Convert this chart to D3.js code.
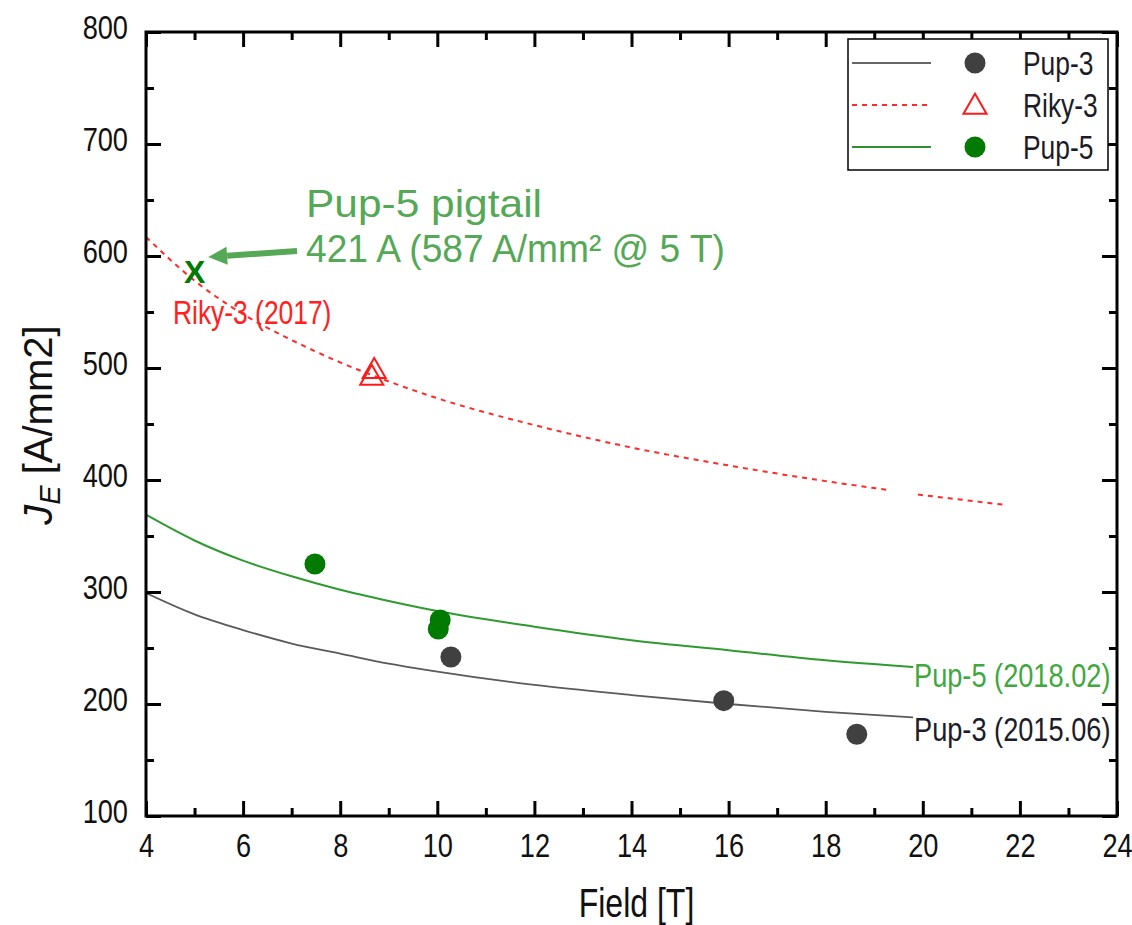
<!DOCTYPE html>
<html>
<head>
<meta charset="utf-8">
<script src="https://cdn.jsdelivr.net/npm/d3@7"></script>
<style>
  body { margin: 0; background: #fff; }
  svg text { font-family: "Liberation Sans", Arial, sans-serif; }
</style>
</head>
<body>
<script>
// curve values (field in T, JE in A/mm2)
const pup3CurveB = [4, 5, 6, 7, 8, 9, 10, 12, 14, 16, 18, 19.8];
const pup3CurveJ = [299, 280, 266, 254, 245, 236, 229, 217, 208, 200, 193, 188];
const pup5CurveB = [4, 5, 6, 7, 8, 9, 10, 12, 14, 16, 18, 19.8];
const pup5CurveJ = [369, 346, 328, 314, 302, 292, 283, 269, 257, 248, 239, 233];
// the red dotted fit has a small break near 19.5 T
const riky3CurveB = [4, 5, 6, 7, 8, 9, 10, 12, 14, 16, 18, 19.3, null, 19.9, 21.65];
const riky3CurveJ = [617, 578, 548, 525, 505, 488, 473, 449, 429, 413, 399, 391, null, 387, 378];

// measured points
const pup3B = [10.28, 15.9, 18.64];
const pup3J = [242, 203, 173];
const pup5B = [7.48, 10.06, 10.02];
const pup5J = [325, 275, 267];
const riky3B = [8.70, 8.65];
const riky3J = [497, 491];
const pigtailB = 5;
const pigtailJ = 587;

const xTicks = [4, 6, 8, 10, 12, 14, 16, 18, 20, 22, 24];
const xMinor = d3.range(5, 24, 2);
const yTicks = [100, 200, 300, 400, 500, 600, 700, 800];
const yMinor = d3.range(150, 800, 100);

const legendNames = ["Pup-3", "Riky-3", "Pup-5"];

const width = 1132;
const height = 925;
const margin = { top: 32, right: 15, bottom: 109, left: 146 };
const squeeze = 0.8; // the plot's fonts are a narrow face

const svg = d3.select("body")
    .append("svg")
    .attr("width", width)
    .attr("height", height);

// fake a condensed font by scaling text along its own direction
function narrow(sel) {
    sel.each(function () {
        const t = d3.select(this);
        const tx = +t.attr("x") || 0;
        const ty = +t.attr("y") || 0;
        t.attr("x", null).attr("y", null)
            .attr("transform", `translate(${tx},${ty}) scale(${squeeze},1)`);
    });
}

const x = d3.scaleLinear().domain([4, 24]).range([margin.left, width - margin.right]);
const y = d3.scaleLinear().domain([100, 800]).range([height - margin.bottom, margin.top]);

const pw = x(24) - x(4);
const ph = y(100) - y(800);

svg.append("clipPath").attr("id", "clip")
    .append("rect")
    .attr("x", x(4)).attr("y", y(800))
    .attr("width", pw).attr("height", ph);

const zip = (bs, js) => bs.map((b, i) => ({ b: b, j: js[i] }));

const line = d3.line()
    .defined(d => d.b != null)
    .x(d => x(d.b))
    .y(d => y(d.j))
    .curve(d3.curveMonotoneX);

const plot = svg.append("g").attr("clip-path", "url(#clip)");

plot.append("path")
    .datum(zip(riky3CurveB, riky3CurveJ))
    .attr("d", line)
    .attr("fill", "none")
    .attr("stroke", "#ff2a2a")
    .attr("stroke-width", 2)
    .attr("stroke-dasharray", "5,5");

plot.append("path")
    .datum(zip(pup5CurveB, pup5CurveJ))
    .attr("d", line)
    .attr("fill", "none")
    .attr("stroke", "#2f9a2f")
    .attr("stroke-width", 2);

plot.append("path")
    .datum(zip(pup3CurveB, pup3CurveJ))
    .attr("d", line)
    .attr("fill", "none")
    .attr("stroke", "#5a5a5a")
    .attr("stroke-width", 1.8);

// symbols
const triangle = d3.symbol().type(d3.symbolTriangle).size(230);

plot.selectAll(".riky")
    .data(zip(riky3B, riky3J))
    .join("path")
    .attr("class", "riky")
    .attr("transform", d => `translate(${x(d.b)},${y(d.j)})`)
    .attr("d", triangle)
    .attr("fill", "none")
    .attr("stroke", "#ff1a1a")
    .attr("stroke-width", 2);

plot.selectAll(".pup5")
    .data(zip(pup5B, pup5J))
    .join("circle")
    .attr("class", "pup5")
    .attr("cx", d => x(d.b))
    .attr("cy", d => y(d.j))
    .attr("r", 10.5)
    .attr("fill", "#007a00");

plot.selectAll(".pup3")
    .data(zip(pup3B, pup3J))
    .join("circle")
    .attr("class", "pup3")
    .attr("cx", d => x(d.b))
    .attr("cy", d => y(d.j))
    .attr("r", 10.5)
    .attr("fill", "#404040");

// axes, ticks pointing inward on all four sides
function styleAxis(g) {
    g.select(".domain").remove();
    g.selectAll(".tick line").attr("stroke", "#000").attr("stroke-width", 3);
    g.selectAll(".tick text")
        .attr("fill", "#111")
        .style("font-size", "34px");
}

svg.append("g")
    .attr("transform", `translate(0,${y(100)})`)
    .call(d3.axisBottom(x).tickValues(xTicks).tickSize(-15).tickPadding(17).tickFormat(d3.format("d")))
    .call(styleAxis)
    .call(g => g.selectAll(".tick text").call(narrow));
svg.append("g")
    .attr("transform", `translate(0,${y(100)})`)
    .call(d3.axisBottom(x).tickValues(xMinor).tickSize(-8).tickFormat(""))
    .call(styleAxis);

svg.append("g")
    .attr("transform", `translate(${x(4)},0)`)
    .call(d3.axisLeft(y).tickValues(yTicks).tickSize(-15).tickPadding(18).tickFormat(d3.format("d")))
    .call(styleAxis)
    .call(g => g.selectAll(".tick text").attr("dy", "0.2em").call(narrow));
svg.append("g")
    .attr("transform", `translate(${x(4)},0)`)
    .call(d3.axisLeft(y).tickValues(yMinor).tickSize(-8).tickFormat(""))
    .call(styleAxis);

svg.append("g")
    .attr("transform", `translate(0,${y(800)})`)
    .call(d3.axisTop(x).tickValues(xTicks).tickSize(-15).tickFormat(""))
    .call(styleAxis);
svg.append("g")
    .attr("transform", `translate(0,${y(800)})`)
    .call(d3.axisTop(x).tickValues(xMinor).tickSize(-8).tickFormat(""))
    .call(styleAxis);

svg.append("g")
    .attr("transform", `translate(${x(24)},0)`)
    .call(d3.axisRight(y).tickValues(yTicks).tickSize(-15).tickFormat(""))
    .call(styleAxis);
svg.append("g")
    .attr("transform", `translate(${x(24)},0)`)
    .call(d3.axisRight(y).tickValues(yMinor).tickSize(-8).tickFormat(""))
    .call(styleAxis);

svg.append("rect")
    .attr("x", x(4)).attr("y", y(800))
    .attr("width", pw).attr("height", ph)
    .attr("fill", "none")
    .attr("stroke", "#000")
    .attr("stroke-width", 3);

// axis titles
svg.append("text")
    .attr("x", (x(4) + x(24)) / 2 + 5)
    .attr("y", 917)
    .attr("text-anchor", "middle")
    .style("font-size", "40px")
    .attr("fill", "#111")
    .text("Field [T]")
    .call(narrow);

const yTitle = svg.append("text")
    .attr("transform", `translate(52,${y(449)}) rotate(-90)`)
    .attr("text-anchor", "middle")
    .style("font-size", "40px")
    .attr("fill", "#111");
yTitle.append("tspan").style("font-style", "italic").text("J");
yTitle.append("tspan").style("font-style", "italic").style("font-size", "29px").attr("dy", 8).text("E");
yTitle.append("tspan").attr("dy", -8).text(" [A/mm2]");

// curve labels
svg.append("text")
    .attr("x", 173).attr("y", 324)
    .style("font-size", "33px")
    .attr("fill", "#ff2020")
    .text("Riky-3 (2017)")
    .call(narrow);
svg.append("text")
    .attr("x", 914).attr("y", 687)
    .style("font-size", "34px")
    .attr("fill", "#3fa83f")
    .text("Pup-5 (2018.02)")
    .call(narrow);
svg.append("text")
    .attr("x", 914).attr("y", 741)
    .style("font-size", "34px")
    .attr("fill", "#1c1c28")
    .text("Pup-3 (2015.06)")
    .call(narrow);

// pigtail annotation
svg.append("text")
    .attr("x", x(pigtailB)).attr("y", y(pigtailJ) + 12)
    .attr("text-anchor", "middle")
    .style("font-size", "32px")
    .style("font-weight", "bold")
    .attr("fill", "#007a00")
    .text("X");

const arrowColor = "#55a855";
const tail = [x(7.11), y(604.5)];
const tip = [x(5.28), y(599)];
const ang = Math.atan2(tip[1] - tail[1], tip[0] - tail[0]);
const headLen = 19, headHalf = 9;
const base = [tip[0] - headLen * Math.cos(ang), tip[1] - headLen * Math.sin(ang)];
svg.append("line")
    .attr("x1", tail[0]).attr("y1", tail[1])
    .attr("x2", base[0]).attr("y2", base[1])
    .attr("stroke", arrowColor)
    .attr("stroke-width", 6);
svg.append("path")
    .attr("d", d3.line()([
        tip,
        [base[0] + headHalf * Math.sin(ang), base[1] - headHalf * Math.cos(ang)],
        [base[0] - headHalf * Math.sin(ang), base[1] + headHalf * Math.cos(ang)]
    ]) + "Z")
    .attr("fill", arrowColor);

svg.append("text")
    .attr("x", 306).attr("y", 217)
    .style("font-size", "38px")
    .attr("textLength", 236)
    .attr("lengthAdjust", "spacingAndGlyphs")
    .attr("fill", arrowColor)
    .text("Pup-5 pigtail");
svg.append("text")
    .attr("x", 306).attr("y", 262)
    .style("font-size", "38px")
    .attr("textLength", 419)
    .attr("lengthAdjust", "spacingAndGlyphs")
    .attr("fill", arrowColor)
    .text("421 A (587 A/mm\u00B2 @ 5 T)");

// legend
const legend = svg.append("g");
legend.append("rect")
    .attr("x", 848).attr("y", 39)
    .attr("width", 260).attr("height", 131)
    .attr("fill", "#fff")
    .attr("stroke", "#000")
    .attr("stroke-width", 1.5);

const rowY = d3.scalePoint().domain(legendNames).range([63, 147]);
const lineStyles = {
    "Pup-3": { stroke: "#666", dash: null },
    "Riky-3": { stroke: "#ff2a2a", dash: "5,5" },
    "Pup-5": { stroke: "#2f8f2f", dash: null }
};

const rows = legend.selectAll(".row")
    .data(legendNames)
    .join("g")
    .attr("class", "row")
    .attr("transform", d => `translate(0,${rowY(d)})`);

rows.append("line")
    .attr("x1", 852).attr("x2", 931)
    .attr("stroke", d => lineStyles[d].stroke)
    .attr("stroke-width", 2)
    .attr("stroke-dasharray", d => lineStyles[d].dash);

rows.filter(d => d !== "Riky-3").append("circle")
    .attr("cx", 975).attr("r", 10.5)
    .attr("fill", d => d === "Pup-3" ? "#404040" : "#007a00");

rows.filter(d => d === "Riky-3").append("path")
    .attr("transform", "translate(975,2)")
    .attr("d", triangle)
    .attr("fill", "none")
    .attr("stroke", "#ff1a1a")
    .attr("stroke-width", 2);

rows.append("text")
    .attr("x", 1023).attr("y", 12)
    .style("font-size", "33px")
    .attr("fill", "#1c1c28")
    .text(d => d)
    .call(narrow);
</script>
</body>
</html>
